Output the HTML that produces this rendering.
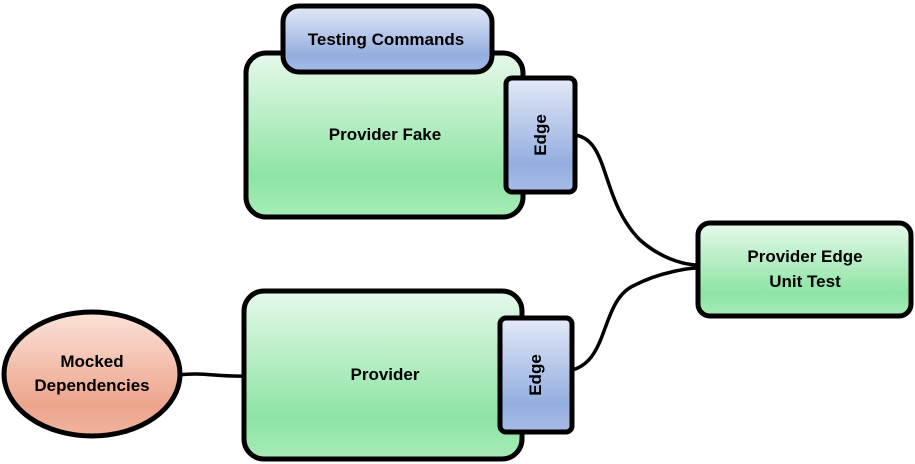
<!DOCTYPE html>
<html><head><meta charset="utf-8"><style>
html,body{margin:0;padding:0;background:#fff;}
svg{display:block;}
text{font-family:"Liberation Sans",sans-serif;font-weight:bold;font-size:17px;fill:#000;}
</style></head><body>
<svg width="915" height="464" viewBox="0 0 915 464" xmlns="http://www.w3.org/2000/svg">
<defs>
<linearGradient id="g" x1="0" y1="0" x2="0" y2="1">
<stop offset="0" stop-color="#e6f9ea"/><stop offset="0.75" stop-color="#8ee4a4"/><stop offset="1" stop-color="#a6ebb7"/></linearGradient>
<linearGradient id="b" x1="0" y1="0" x2="0" y2="1">
<stop offset="0" stop-color="#e3e9f7"/><stop offset="0.75" stop-color="#94aee0"/><stop offset="1" stop-color="#a6bce6"/></linearGradient>
<linearGradient id="r" x1="0" y1="0" x2="0" y2="1">
<stop offset="0" stop-color="#fbe3da"/><stop offset="0.75" stop-color="#eda58c"/><stop offset="1" stop-color="#f0b39e"/></linearGradient>
</defs>
<g fill="none" stroke="#000" stroke-width="3.5" stroke-linecap="round">
<path d="M575,135 C610,140 600,200 640,240 C665,262 690,265 698,265"/>
<path d="M572,370 C610,360 600,300 635,285 C660,272 690,268 698,268"/>
<path d="M180,375 C200,372 220,377 244,376"/>
</g>
<g stroke="#000" stroke-width="5">
<rect x="246" y="53" width="277" height="164" rx="20" fill="url(#g)"/>
<rect x="283" y="6" width="209" height="66" rx="16" fill="url(#b)"/>
<rect x="506" y="78" width="69" height="114" rx="6" fill="url(#b)"/>
<rect x="244" y="291" width="278" height="168" rx="20" fill="url(#g)"/>
<rect x="500" y="318" width="72" height="114" rx="6" fill="url(#b)"/>
<rect x="698" y="223" width="213" height="93" rx="12" fill="url(#g)"/>
<ellipse cx="92" cy="374" rx="88" ry="62" fill="url(#r)"/>
</g>
<text x="386" y="45" text-anchor="middle">Testing Commands</text>
<text x="385" y="140" text-anchor="middle">Provider Fake</text>
<text x="385" y="380" text-anchor="middle">Provider</text>
<text x="805" y="262" text-anchor="middle">Provider Edge</text>
<text x="805" y="287" text-anchor="middle">Unit Test</text>
<text x="92" y="367" text-anchor="middle">Mocked</text>
<text x="92" y="391" text-anchor="middle">Dependencies</text>
<text transform="translate(546,135) rotate(-90)" text-anchor="middle">Edge</text>
<text transform="translate(541,375) rotate(-90)" text-anchor="middle">Edge</text>
</svg>
</body></html>
